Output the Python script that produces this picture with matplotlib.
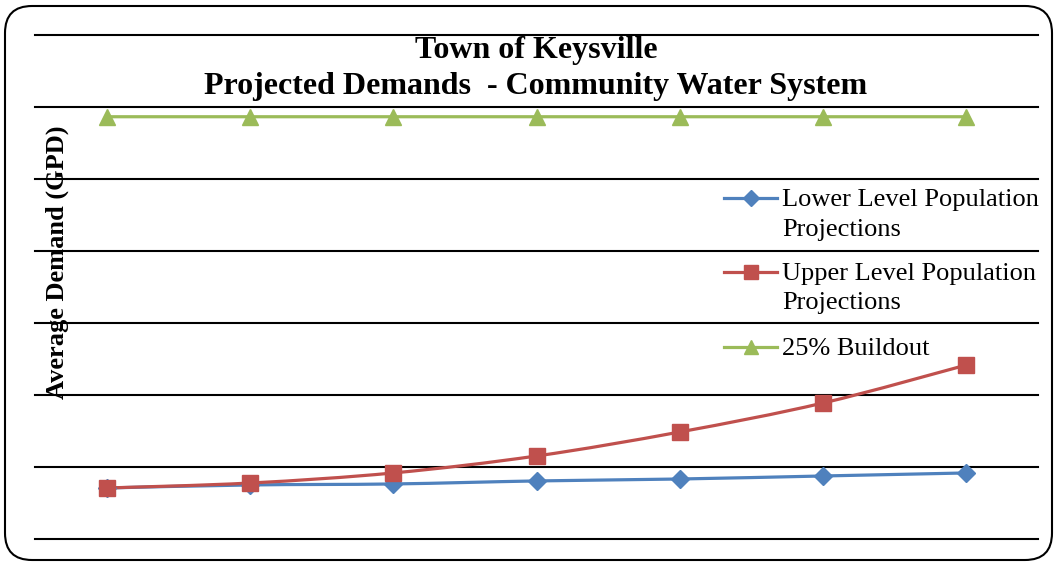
import matplotlib.pyplot as plt
from matplotlib.path import Path
from matplotlib.patches import PathPatch, FancyBboxPatch
from matplotlib.lines import Line2D

plt.rcParams['font.family'] = ['Liberation Serif', 'DejaVu Serif']

# Projection periods (no tick labels shown on the original chart)
periods = [0, 1, 2, 3, 4, 5, 6]
lower = [70800, 75000, 76400, 80600, 83300, 87500, 91700]
upper = [70800, 77700, 91700, 115300, 148700, 189000, 241800]
buildout = [587000, 587000, 587000, 587000, 587000, 587000, 587000]
labels = ['Lower Level Population\nProjections',
          'Upper Level Population\nProjections',
          '25% Buildout']
colors = ['#4F81BD', '#C0504D', '#9BBB59']
markers = ['D', 's', '^']
msizes = [9, 11, 11]

fig = plt.figure(figsize=(10.55, 5.63), dpi=100)
ax = fig.add_axes([0.0332, 0.0428, 0.9507, 0.8942])


def smooth_path(xs, ys):
    # Excel-style smoothed line (Catmull-Rom as cubic Bezier)
    pts = list(zip(xs, ys))
    verts = [pts[0]]
    codes = [Path.MOVETO]
    n = len(pts)
    for i in range(n - 1):
        p0 = pts[i - 1] if i > 0 else pts[i]
        p1, p2 = pts[i], pts[i + 1]
        p3 = pts[i + 2] if i + 2 < n else pts[i + 1]
        c1 = (p1[0] + (p2[0] - p0[0]) / 6, p1[1] + (p2[1] - p0[1]) / 6)
        c2 = (p2[0] - (p3[0] - p1[0]) / 6, p2[1] - (p3[1] - p1[1]) / 6)
        verts += [c1, c2, p2]
        codes += [Path.CURVE4] * 3
    return Path(verts, codes)


for ys, c, m, ms in zip([lower, upper, buildout], colors, markers, msizes):
    ax.add_patch(PathPatch(smooth_path(periods, ys), fill=False,
                           edgecolor=c, lw=2.3, zorder=3))
    ax.plot(periods, ys, linestyle='none', marker=m, ms=ms, color=c,
            markeredgecolor=c, zorder=4, clip_on=False)

ax.set_xlim(-0.5, 6.5)
ax.set_ylim(0, 700000)
ax.set_yticks(range(0, 700001, 100000))
ax.set_xticks([])
ax.tick_params(axis='y', length=0, labelleft=False)
ax.grid(axis='y', color='black', lw=1.5)
for gl in ax.get_ygridlines():
    gl.set_clip_on(False)
ax.set_axisbelow(True)
for s in ax.spines.values():
    s.set_visible(False)
ax.patch.set_alpha(0)

# title and axis label
fig.text(0.508, 0.878, 'Town of Keysville\nProjected Demands  - Community Water System',
         ha='center', va='center', fontsize=23, fontweight='bold', linespacing=1.32)
fig.text(0.054, 0.5346, 'Average Demand (GPD)', rotation=90, ha='center',
         va='center', fontsize=19, fontweight='bold')

# legend drawn by hand so the handle lines up with the first text line
leg_y = [198, 272, 347]
for lab, c, m, ms, y in zip(labels, colors, markers, msizes, leg_y):
    yf = 1 - y / 563
    fig.add_artist(Line2D([724 / 1055, 777 / 1055], [yf, yf], color=c, lw=2.3,
                          transform=fig.transFigure))
    fig.add_artist(Line2D([750.5 / 1055], [yf], color=c, marker=m, ms=ms * 0.9,
                          transform=fig.transFigure))
    for k, part in enumerate(lab.split('\n')):
        fig.text(782 / 1055, 1 - (y + 8 + 29.5 * k) / 563, part, ha='left',
                 va='baseline', fontsize=19)

# rounded chart border
fig.add_artist(FancyBboxPatch((0.05, 0.03), 10.47, 5.54,
                              boxstyle='round,pad=0,rounding_size=0.27',
                              transform=fig.dpi_scale_trans, fill=False,
                              edgecolor='black', lw=1.5))

plt.savefig('out.png', dpi=100)
